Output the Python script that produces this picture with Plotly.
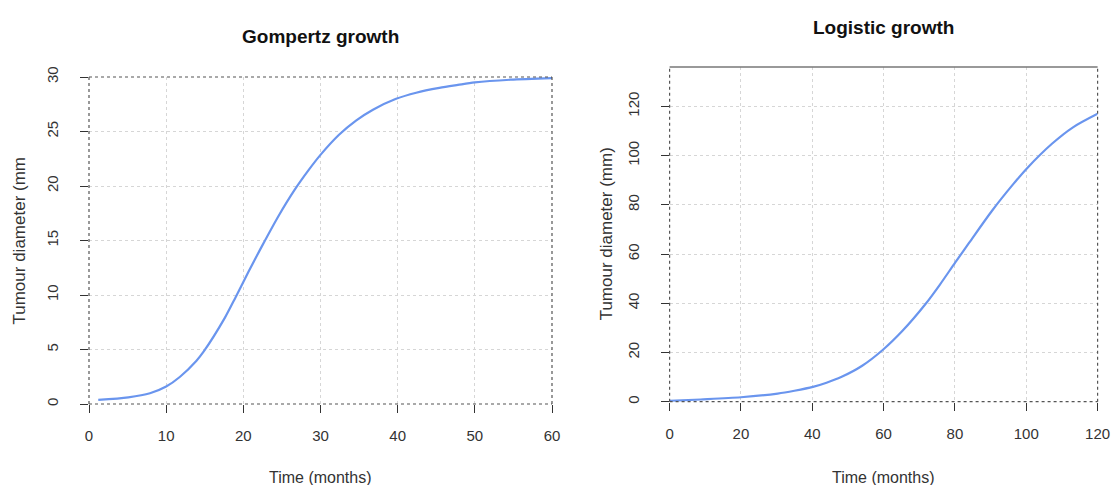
import plotly.graph_objects as go

# Gompertz growth curve (time in months, diameter in mm)
gompertz_t = [1.2, 5.1, 7.9, 10.0, 11.8, 13.9, 14.85, 17.6, 19.0, 20.65, 22.5, 24.6,
              26.6, 28.5, 30.05, 32.4, 34.6, 36.8, 39.8, 42.4, 45.4, 47.8, 50.0, 54.6, 60.0]
gompertz_d = [0.37, 0.61, 0.98, 1.6, 2.5, 3.95, 4.8, 7.9, 9.8, 12.1, 14.6, 17.3,
              19.6, 21.5, 22.9, 24.7, 26.0, 27.0, 28.0, 28.56, 29.0, 29.27, 29.5, 29.75, 29.9]

# Logistic growth curve
logistic_t = [0, 8.7, 20.0, 30.3, 35.0, 40.2, 44.0, 48.1, 54.0, 59.9, 65.3, 71.7, 75.7, 80.1,
              84.0, 90.4, 96.4, 100.3, 107.2, 113.1, 120.0]
logistic_d = [0.3, 0.9, 1.8, 3.3, 4.45, 6.0, 7.7, 10.0, 14.6, 21.2, 28.8, 39.6, 47.4, 56.6,
              64.6, 77.6, 88.5, 95.0, 104.8, 111.5, 117.0]

gompertz_xticks = [0, 10, 20, 30, 40, 50, 60]
gompertz_yticks = [0, 5, 10, 15, 20, 25, 30]
logistic_xticks = [0, 20, 40, 60, 80, 100, 120]
logistic_yticks = [0, 20, 40, 60, 80, 100, 120]

titles = ["Gompertz growth", "Logistic growth"]
x_title = "Time (months)"
y_titles = ["Tumour diameter (mm", "Tumour diameter (mm)"]

W, H = 1111, 485
FONT = "Liberation Sans, Arial, sans-serif"
LINE = "#6a95ee"
TXT = "#333333"
GRID = "#d6d6d6"
EDGE = "#555555"

# pixel boxes of the two panels: (left, right, top, bottom)
boxes = [(89, 552, 77, 404), (669.6, 1097.6, 67, 401.7)]
xranges = [[0, 60], [0, 120]]
yranges = [[0, 30], [0, 136]]

fig = go.Figure()
fig.add_trace(go.Scatter(x=gompertz_t, y=gompertz_d, mode="lines",
                         line=dict(color=LINE, width=2.2, shape="spline", smoothing=0.8),
                         xaxis="x", yaxis="y", showlegend=False, hoverinfo="skip"))
fig.add_trace(go.Scatter(x=logistic_t, y=logistic_d, mode="lines",
                         line=dict(color=LINE, width=2.2, shape="spline", smoothing=0.8),
                         xaxis="x2", yaxis="y2", showlegend=False, hoverinfo="skip"))


def xaxis(i, ticks):
    l, r, t, b = boxes[i]
    return dict(domain=[l / W, r / W], range=xranges[i], tickvals=ticks, ticks="outside", ticklen=8,
                tickwidth=1.2, tickcolor="#333", showline=False, zeroline=False, showgrid=True,
                gridcolor=GRID, griddash="dot", gridwidth=1, anchor="y" if i == 0 else "y2",
                tickfont=dict(family=FONT, size=15, color=TXT), ticklabelstandoff=10,
                automargin=False, fixedrange=True)


def yaxis(i, ticks):
    l, r, t, b = boxes[i]
    return dict(domain=[1 - b / H, 1 - t / H], range=yranges[i], tickvals=ticks, ticks="outside", ticklen=8,
                tickwidth=1.2, tickcolor="#333", showline=False, zeroline=False, showgrid=True,
                gridcolor=GRID, griddash="dot", gridwidth=1, anchor="x" if i == 0 else "x2",
                tickangle=-90, tickfont=dict(family=FONT, size=15, color=TXT), ticklabelstandoff=16,
                automargin=False, fixedrange=True)


fig.update_layout(
    width=W, height=H, margin=dict(l=0, r=0, t=0, b=0),
    paper_bgcolor="white", plot_bgcolor="white",
    xaxis=xaxis(0, gompertz_xticks), yaxis=yaxis(0, gompertz_yticks),
    xaxis2=xaxis(1, logistic_xticks), yaxis2=yaxis(1, logistic_yticks),
)

# panel frames: dark dotted edges, solid top edge on the second panel
shapes = []
for i, (xr, yr) in enumerate(zip(["x", "x2"], ["y", "y2"])):
    dom = f"{xr} domain"
    ydom = f"{yr} domain"
    for (x0, y0, x1, y1) in [(0, 0, 1, 0), (0, 0, 0, 1), (1, 0, 1, 1), (0, 1, 1, 1)]:
        solid = (i == 1 and y0 == 1 and y1 == 1)
        shapes.append(dict(type="line", xref=dom, yref=ydom, x0=x0, y0=y0, x1=x1, y1=y1,
                           line=dict(color="#777777" if solid else EDGE, width=1.4 if solid else 1.2,
                                     dash="solid" if solid else "dot")))
fig.update_layout(shapes=shapes)

annotations = []
title_y = [37, 27]
ytitle_x = [19, 606]
for i in range(2):
    l, r, t, b = boxes[i]
    cx = (l + r) / 2
    cy = (t + b) / 2
    annotations.append(dict(text=f"<b>{titles[i]}</b>", x=cx / W, y=1 - title_y[i] / H, xref="paper", yref="paper",
                            showarrow=False, xanchor="center", yanchor="middle",
                            font=dict(family=FONT, size=19, color="#111111")))
    annotations.append(dict(text=x_title, x=cx / W, y=1 - 477 / H, xref="paper", yref="paper",
                            showarrow=False, xanchor="center", yanchor="middle",
                            font=dict(family=FONT, size=16, color=TXT)))
    annotations.append(dict(text=y_titles[i], x=ytitle_x[i] / W, y=1 - cy / H, xref="paper", yref="paper",
                            showarrow=False, xanchor="center", yanchor="middle", textangle=-90,
                            font=dict(family=FONT, size=17, color=TXT)))
fig.update_layout(annotations=annotations)

fig.write_html("out.html", config={"displayModeBar": False})
